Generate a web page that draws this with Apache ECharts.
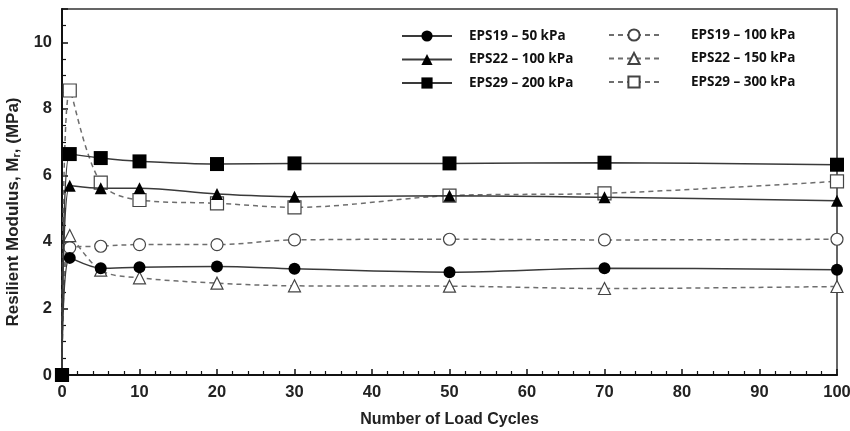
<!DOCTYPE html>
<html>
<head>
<meta charset="utf-8">
<script src="https://cdn.jsdelivr.net/npm/echarts@6/dist/echarts.min.js"></script>
<style>html,body{margin:0;padding:0;background:#fff}#c{width:850px;height:431px}</style>
</head>
<body>
<div id="c"></div>
<script>
const cycles = [0, 1, 5, 10, 20, 30, 50, 70, 100];
const eps19_50  = [0, 3.52, 3.21, 3.24, 3.26, 3.19, 3.09, 3.21, 3.16];
const eps22_100 = [0, 5.69, 5.61, 5.61, 5.44, 5.36, 5.39, 5.34, 5.24];
const eps29_200 = [0, 6.64, 6.52, 6.42, 6.34, 6.36, 6.36, 6.38, 6.32];
const eps19_100 = [0, 3.83, 3.87, 3.92, 3.92, 4.06, 4.08, 4.06, 4.08];
const eps22_150 = [0, 4.19, 3.15, 2.92, 2.76, 2.68, 2.67, 2.60, 2.66];
const eps29_300 = [0, 8.55, 5.78, 5.26, 5.16, 5.04, 5.39, 5.46, 5.82];
const names = ['EPS19 – 50 kPa','EPS22 – 100 kPa','EPS29 – 200 kPa','EPS19 – 100 kPa','EPS22 – 150 kPa','EPS29 – 300 kPa'];

const pair = arr => cycles.map((x, i) => [x, arr[i]]);
const F = 'Liberation Sans, Arial, sans-serif';

function solid(name, arr, sym, size) {
  return {
    name, type: 'line', data: pair(arr), smooth: 0.35, clip: false, z: 5,
    symbol: sym, symbolSize: size,
    lineStyle: { color: '#3a3a3a', width: 1.5, type: 'solid' },
    itemStyle: { color: '#000', borderColor: '#000', borderWidth: 0 }
  };
}
function dashed(name, arr, sym, size) {
  return {
    name, type: 'line', data: pair(arr), smooth: 0.35, clip: false, z: 3,
    symbol: sym, symbolSize: size,
    lineStyle: { color: '#6e6e6e', width: 1.5, type: [5, 4] },
    itemStyle: { color: '#fff', borderColor: '#444', borderWidth: 1.2 }
  };
}

const chart = echarts.init(document.getElementById('c'), null, { renderer: 'canvas' });
chart.setOption({
  animation: false,
  backgroundColor: '#fff',
  grid: { left: 62, right: 13, top: 9, bottom: 56, containLabel: false, outerBoundsMode: 'none',
          show: true, borderColor: '#333', borderWidth: 1.5, backgroundColor: 'transparent' },
  legend: [
    { data: names.slice(0, 3), orient: 'vertical', left: 396, top: 24, itemWidth: 50, itemHeight: 14, itemGap: 9.5,
      textStyle: { fontFamily: 'Open Sans, sans-serif', fontWeight: 'bold', fontSize: 13.5, color: '#111', padding: [0, 0, 0, 12] } },
    { data: names.slice(3), orient: 'vertical', left: 603, top: 23, itemWidth: 50, itemHeight: 14, itemGap: 9.5,
      textStyle: { fontFamily: 'Open Sans, sans-serif', fontWeight: 'bold', fontSize: 13.5, color: '#111', padding: [0, 0, 0, 27] } }
  ],
  xAxis: {
    type: 'value', min: 0, max: 100, interval: 10,
    name: 'Number of Load Cycles', nameLocation: 'middle', nameGap: 37,
    nameTextStyle: { fontFamily: F, fontWeight: 'bold', fontSize: 16, color: '#222' },
    axisLine: { show: true, lineStyle: { color: '#111', width: 2 } },
    axisTick: { show: true, inside: true, length: 6, lineStyle: { color: '#111', width: 1.5 } },
    minorTick: { show: true, splitNumber: 5, length: 4, lineStyle: { color: '#111', width: 1.2 } },
    axisLabel: { fontFamily: F, fontWeight: 'bold', fontSize: 16.5, color: '#222', margin: 9 },
    splitLine: { show: false }
  },
  yAxis: {
    type: 'value', min: 0, max: 11, interval: 2,
    name: '{a|Resilient Modulus, M}{s|r}{a|, (MPa)}', nameLocation: 'middle', nameGap: 27, nameRotate: 90,
    nameTextStyle: { padding: [0, 40, 0, 0], rich: {
      a: { fontFamily: F, fontWeight: 'bold', fontSize: 17, color: '#222' },
      s: { fontFamily: F, fontWeight: 'bold', fontSize: 11, color: '#222', verticalAlign: 'bottom', padding: [7, 0, 0, 0] }
    } },
    axisLine: { show: true, lineStyle: { color: '#111', width: 2 } },
    axisTick: { show: true, inside: true, length: 6, lineStyle: { color: '#111', width: 1.5 } },
    minorTick: { show: true, splitNumber: 4, length: 4, lineStyle: { color: '#111', width: 1.2 } },
    axisLabel: { fontFamily: F, fontWeight: 'bold', fontSize: 16.5, color: '#222', margin: 10,
      formatter: v => (v === 11 ? '' : String(v)) },
    splitLine: { show: false }
  },
  series: [
    dashed(names[3], eps19_100, 'circle', 12),
    dashed(names[4], eps22_150, 'triangle', 12),
    dashed(names[5], eps29_300, 'rect', 13),
    solid(names[0], eps19_50, 'circle', 12),
    solid(names[1], eps22_100, 'triangle', 12),
    solid(names[2], eps29_200, 'rect', 14)
  ]
});
</script>
</body>
</html>
